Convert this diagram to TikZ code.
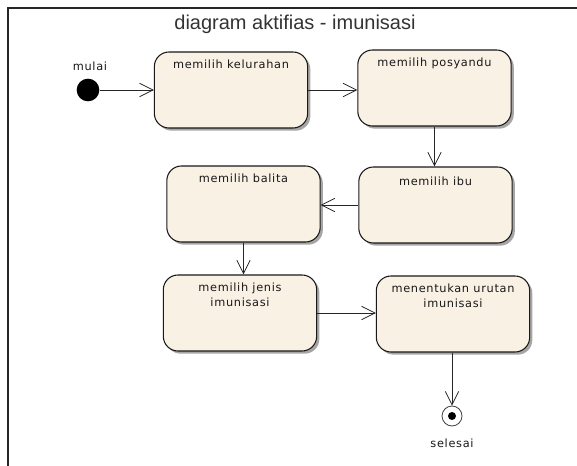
\documentclass[tikz,border=0pt]{standalone}
\usepackage{fontspec}
\setmainfont{DejaVu Sans}[LetterSpace=6]
\newfontfamily\titlefont{Liberation Sans}
\usetikzlibrary{arrows.meta,shadows}
\definecolor{cream}{RGB}{249,241,228}
\begin{document}
\begin{tikzpicture}[x=0.75pt,y=-0.75pt,
  act/.style={rectangle, rounded corners=11pt, draw=black!90, line width=0.8pt,
    fill=cream, minimum width=115pt, minimum height=57pt,
    drop shadow={shadow xshift=2pt, shadow yshift=-2pt, fill=black!35, opacity=1}},
  lbl/.style={font=\fontsize{8.5}{11}\selectfont, align=center, anchor=north, text=black!90},
  small/.style={font=\fontsize{8.5}{10}\selectfont, text=black!90},
  flow/.style={draw=black!85, line width=0.6pt, -{Straight Barb[length=10pt,width=10pt]}}]
\useasboundingbox (0,0) rectangle (577,466);

% frame
\draw[line width=1.5pt, black!85] (8,466) -- (8,8) -- (577,8);

% title
\node[font=\titlefont\fontsize{15}{18}\selectfont, text=black!80] (title) at (295,24) {diagram aktifias - imunisasi};

% start and end states
\node[circle, fill=black, minimum size=17pt, inner sep=0pt] (start) at (88,90) {};
\node[small] (mulai) at (90,66) {mulai};
\node[circle, draw=black!75, fill=white, line width=0.6pt, minimum size=15pt, inner sep=0pt] (end) at (452,416) {};
\node[circle, fill=black, minimum size=6pt, inner sep=0pt] (endDot) at (end) {};
\node[small] (selesai) at (452,443) {selesai};

% activities
\node[act, label={[lbl, yshift=-3pt]north:memilih kelurahan}] (kel) at (231,90) {};
\node[act, label={[lbl, yshift=-3pt]north:memilih posyandu}] (pos) at (434.5,88) {};
\node[act, label={[lbl, yshift=-4pt]north:memilih ibu}] (ibu) at (435.5,205) {};
\node[act, label={[lbl, yshift=-3pt]north:memilih balita}] (bal) at (243.5,204) {};
\node[act, label={[lbl, yshift=-3pt]north:memilih jenis\\imunisasi}] (jen) at (240,313) {};
\node[act, label={[lbl, yshift=-3pt]north:menentukan urutan\\imunisasi}] (uru) at (453,314) {};

% transitions
\draw[flow] (start) -- (kel);
\draw[flow] (kel.east) -- (kel.east -| pos.west);
\draw[flow] (pos.south) -- (pos.south |- ibu.north);
\draw[flow] (ibu.west) -- (ibu.west -| bal.east);
\draw[flow] (bal.south) -- (bal.south |- jen.north);
\draw[flow] (jen.east) -- (jen.east -| uru.west);
\draw[flow] (uru.south -| end) -- (end);
\end{tikzpicture}
\end{document}
